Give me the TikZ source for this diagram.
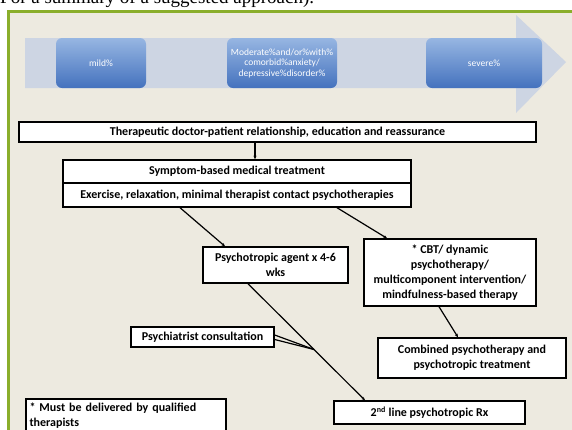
\documentclass[tikz,border=0pt]{standalone}
\usepackage{fontspec}
\setmainfont{Carlito}
\newfontfamily\serifttl{Liberation Serif}
\usetikzlibrary{arrows.meta,calc}
\definecolor{frameg}{HTML}{8AAE2B}
\definecolor{bgbeige}{HTML}{EDEAE0}
\definecolor{arrowbl}{HTML}{CDD5E3}
\definecolor{boxtop}{HTML}{97B6E2}
\definecolor{boxbot}{HTML}{4472BE}
\tikzset{
  stage/.style={rounded corners=6pt, top color=boxtop, bottom color=boxbot, draw=none,
    text=white, font=\fontsize{9.5}{10.5}\selectfont, align=center, inner sep=0pt,
    minimum height=50pt},
  fbox/.style={draw=black, line width=1.4pt, fill=white, align=center, inner sep=0pt,
    font=\bfseries\fontsize{12}{15}\selectfont},
  conn/.style={line width=1.2pt, -{Stealth[length=3.5pt,width=3pt]}},
  plain/.style={line width=1.2pt}
}
\begin{document}
\begin{tikzpicture}[x=1pt,y=-1pt]
\clip (0,0) rectangle (572,429);
\fill[white] (0,0) rectangle (572,429);
\node[anchor=base west, inner sep=0pt, font=\serifttl\fontsize{19}{19}\selectfont] (title) at (0,3.5) {For a summary of a suggested approach).};
\draw[frameg, line width=3pt, fill=bgbeige] (8,11) rectangle (590,450);
% big arrow
\fill[arrowbl] (25,38) -- (516,38) -- (516,15) -- (566,62) -- (516,113) -- (516,88) -- (25,88) -- cycle;
% stages
\node[stage, minimum width=90pt] (mild) at (101,63) {mild\%};
\node[stage, minimum width=110pt] (mod) at (282,63) {Moderate\%and/or\%with\%\\comorbid\%anxiety/\\depressive\%disorder\%};
\node[stage, minimum width=116pt] (sev) at (484,63) {severe\%};
% flowchart boxes
\node[fbox, minimum width=517pt, minimum height=20pt] (rel) at (277.5,132) {Therapeutic doctor-patient relationship, education and reassurance};
\node[fbox, minimum width=348pt, minimum height=23pt] (sym) at (237,171.5) {Symptom-based medical treatment};
\node[fbox, minimum width=348pt, minimum height=24pt] (ex) at (237,195) {Exercise, relaxation, minimal therapist contact psychotherapies};
\node[fbox, minimum width=145pt, minimum height=36pt] (psy) at (275.5,265) {Psychotropic agent x 4-6\\wks};
\node[fbox, minimum width=172pt, minimum height=67pt] (cbt) at (450,272.5) {* CBT/ dynamic\\psychotherapy/\\multicomponent intervention/\\mindfulness-based therapy};
\node[fbox, minimum width=188pt, minimum height=40pt] (comb) at (472,358) {Combined psychotherapy and\\psychotropic treatment};
\node[fbox, minimum width=143pt, minimum height=20pt] (cons) at (202.5,337) {Psychiatrist consultation};
\node[fbox, minimum width=191pt, minimum height=23pt] (second) at (429.5,412.5) {2\textsuperscript{nd} line psychotropic Rx};
\node[fbox, minimum width=200pt, minimum height=33pt, align=left, text width=193pt] (note) at (126,415.5) {* Must be delivered by qualified\\therapists};
% connectors
\draw[conn] ([xshift=-22.5pt]rel.south) -- ([xshift=18pt]sym.north);
\draw[conn] ([xshift=-57pt]ex.south) -- ([xshift=-50.5pt]psy.north);
\draw[conn] ([xshift=100pt]ex.south) -- ([xshift=-63pt]cbt.north);
\draw[conn] ([xshift=-11pt]cbt.south) -- ([xshift=-14pt]comb.north);
\coordinate (pa) at ([xshift=-27.5pt]psy.south);
\coordinate (pb) at ([xshift=-64.5pt]second.north);
\draw[conn] (pa) -- (pb);
\coordinate (jn) at ($(pa)!0.564!(pb)$);
\draw[plain] ([yshift=2pt]cons.east) -- (jn);
\draw[plain] ([yshift=-2.5pt]cons.east) -- (jn);
\end{tikzpicture}
\end{document}
